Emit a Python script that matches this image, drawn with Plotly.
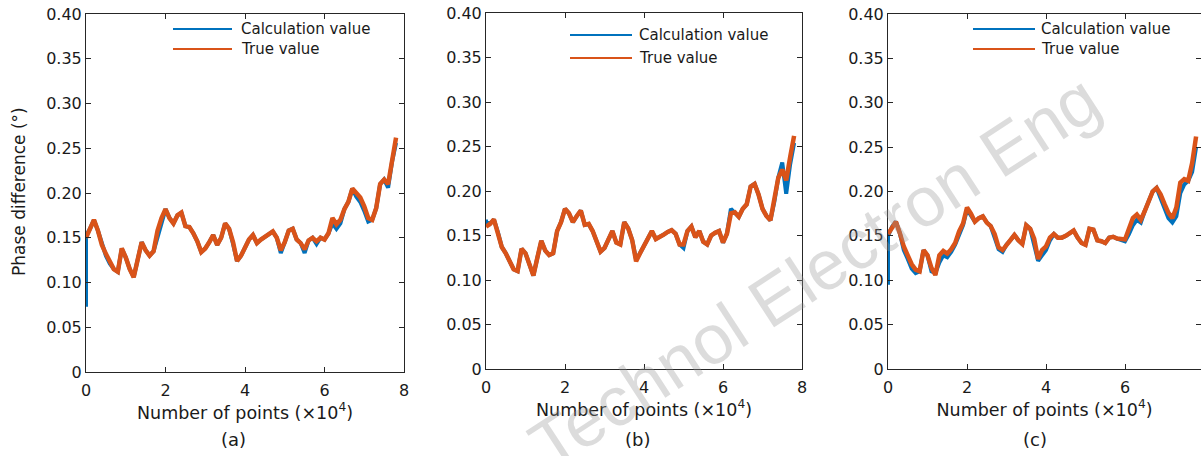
import plotly.graph_objects as go

# ---------------- data ----------------
X_POINTS = [round(0.1 * i, 1) for i in range(79)]   # number of points, x10^4
X_TICKS = [0, 2, 4, 6, 8]
Y_TICKS = [0, 0.05, 0.10, 0.15, 0.20, 0.25, 0.30, 0.35, 0.40]
Y_TICK_LABELS = ["0", "0.05", "0.10", "0.15", "0.20", "0.25", "0.30", "0.35", "0.40"]
PANEL_LABELS = ["(a)", "(b)", "(c)"]
SERIES_NAMES = ["Calculation value", "True value"]

A_CALC_START = 0.073
A_TRUE = [0.150, 0.160, 0.170, 0.158, 0.142, 0.132, 0.124, 0.115, 0.112, 0.138,
          0.128, 0.115, 0.106, 0.128, 0.145, 0.136, 0.130, 0.135, 0.158, 0.172,
          0.182, 0.172, 0.166, 0.175, 0.178, 0.163, 0.162, 0.155, 0.146, 0.134,
          0.138, 0.145, 0.153, 0.142, 0.150, 0.166, 0.160, 0.145, 0.124, 0.130,
          0.138, 0.148, 0.153, 0.144, 0.148, 0.151, 0.155, 0.157, 0.150, 0.136,
          0.145, 0.158, 0.160, 0.148, 0.144, 0.137, 0.147, 0.150, 0.146, 0.150,
          0.148, 0.155, 0.172, 0.165, 0.170, 0.182, 0.190, 0.205, 0.200, 0.195,
          0.185, 0.172, 0.170, 0.183, 0.210, 0.215, 0.210, 0.240, 0.262]
A_CALC = [0.152, 0.160, 0.170, 0.158, 0.142, 0.130, 0.121, 0.115, 0.112, 0.138,
          0.128, 0.115, 0.106, 0.128, 0.145, 0.136, 0.130, 0.135, 0.152, 0.168,
          0.182, 0.172, 0.166, 0.175, 0.178, 0.163, 0.162, 0.155, 0.146, 0.134,
          0.138, 0.145, 0.153, 0.142, 0.150, 0.166, 0.160, 0.143, 0.124, 0.130,
          0.138, 0.148, 0.153, 0.144, 0.148, 0.151, 0.155, 0.157, 0.150, 0.133,
          0.145, 0.158, 0.160, 0.148, 0.144, 0.133, 0.147, 0.150, 0.143, 0.150,
          0.148, 0.155, 0.166, 0.160, 0.166, 0.182, 0.190, 0.205, 0.196, 0.190,
          0.180, 0.168, 0.170, 0.183, 0.210, 0.215, 0.206, 0.235, 0.256]

B_CALC_START = 0.168
B_TRUE = [0.160, 0.163, 0.168, 0.154, 0.137, 0.130, 0.120, 0.112, 0.110, 0.135,
          0.130, 0.118, 0.105, 0.125, 0.144, 0.133, 0.128, 0.130, 0.155, 0.165,
          0.180, 0.175, 0.165, 0.172, 0.178, 0.162, 0.163, 0.155, 0.142, 0.132,
          0.136, 0.145, 0.155, 0.142, 0.140, 0.165, 0.158, 0.145, 0.121, 0.130,
          0.138, 0.148, 0.155, 0.146, 0.148, 0.151, 0.154, 0.156, 0.152, 0.140,
          0.140, 0.155, 0.160, 0.148, 0.155, 0.143, 0.140, 0.150, 0.153, 0.155,
          0.142, 0.152, 0.175, 0.176, 0.171, 0.180, 0.185, 0.205, 0.208, 0.196,
          0.180, 0.172, 0.167, 0.188, 0.215, 0.224, 0.212, 0.238, 0.262]
B_CALC = [0.165, 0.163, 0.168, 0.154, 0.137, 0.130, 0.120, 0.112, 0.110, 0.135,
          0.130, 0.118, 0.105, 0.125, 0.144, 0.133, 0.128, 0.130, 0.155, 0.165,
          0.180, 0.175, 0.165, 0.172, 0.178, 0.162, 0.163, 0.155, 0.142, 0.132,
          0.136, 0.145, 0.155, 0.142, 0.140, 0.165, 0.158, 0.145, 0.123, 0.130,
          0.138, 0.148, 0.155, 0.146, 0.148, 0.151, 0.154, 0.156, 0.152, 0.140,
          0.136, 0.155, 0.160, 0.148, 0.155, 0.143, 0.140, 0.150, 0.153, 0.155,
          0.142, 0.152, 0.180, 0.176, 0.171, 0.180, 0.185, 0.205, 0.208, 0.196,
          0.180, 0.172, 0.167, 0.188, 0.215, 0.232, 0.197, 0.230, 0.254]

C_CALC_START = 0.095
C_TRUE = [0.152, 0.160, 0.166, 0.153, 0.138, 0.128, 0.118, 0.112, 0.110, 0.134,
          0.128, 0.114, 0.106, 0.128, 0.133, 0.130, 0.135, 0.142, 0.155, 0.164,
          0.182, 0.175, 0.166, 0.170, 0.172, 0.165, 0.161, 0.152, 0.137, 0.134,
          0.140, 0.145, 0.151, 0.145, 0.141, 0.162, 0.158, 0.147, 0.124, 0.134,
          0.138, 0.148, 0.152, 0.148, 0.148, 0.150, 0.153, 0.156, 0.148, 0.142,
          0.140, 0.158, 0.157, 0.145, 0.144, 0.142, 0.148, 0.149, 0.147, 0.146,
          0.146, 0.158, 0.170, 0.174, 0.168, 0.178, 0.188, 0.200, 0.204, 0.197,
          0.186, 0.176, 0.170, 0.182, 0.210, 0.214, 0.212, 0.232, 0.262]
C_CALC = [0.150, 0.160, 0.166, 0.153, 0.134, 0.124, 0.113, 0.108, 0.110, 0.134,
          0.128, 0.110, 0.108, 0.120, 0.128, 0.126, 0.132, 0.140, 0.152, 0.162,
          0.180, 0.172, 0.166, 0.170, 0.172, 0.165, 0.161, 0.148, 0.135, 0.132,
          0.140, 0.145, 0.151, 0.145, 0.141, 0.162, 0.158, 0.140, 0.122, 0.128,
          0.134, 0.145, 0.152, 0.148, 0.148, 0.150, 0.153, 0.156, 0.148, 0.142,
          0.140, 0.158, 0.157, 0.145, 0.144, 0.142, 0.148, 0.149, 0.147, 0.146,
          0.144, 0.152, 0.162, 0.168, 0.165, 0.178, 0.188, 0.200, 0.204, 0.192,
          0.180, 0.170, 0.165, 0.172, 0.198, 0.208, 0.212, 0.222, 0.250]

# ---------------- styling / layout ----------------
W, H = 1201, 456
BLUE = "#0072BD"
ORANGE = "#D95319"
AX = "#262626"
TXT = "#1a1a1a"
FONT = "DejaVu Sans"

def px(x):
    return x / W

def py(y):
    return 1 - y / H

# panel boxes in pixels: (left, right, top, bottom)
BOXES = [(86, 404, 14, 372), (486, 802, 13, 369), (888, 1201, 14, 369)]
X_RANGES = [[0, 8], [0, 8], [0, 8 * (1201 - 888) / (1204 - 888)]]
LEGEND_POS = [  # line x0, x1, text x, row1 y, row2 y
    (173, 232, 239, 29, 49),
    (570, 632, 637, 35, 58),
    (973, 1035, 1039, 29, 49),
]
LABEL_POS = [(233, 439), (637, 439), (1035, 439)]

panels = [
    (A_CALC_START, A_CALC, A_TRUE),
    (B_CALC_START, B_CALC, B_TRUE),
    (C_CALC_START, C_CALC, C_TRUE),
]

fig = go.Figure()
layout = dict(
    width=W, height=H,
    margin=dict(l=0, r=0, t=0, b=0, pad=0, autoexpand=False),
    paper_bgcolor="white", plot_bgcolor="white",
    showlegend=False,
    font=dict(family=FONT, color=TXT),
)
shapes = []
annotations = []

for i, (start, calc, true) in enumerate(panels):
    n = "" if i == 0 else str(i + 1)
    xa, ya = "x" + n, "y" + n
    fig.add_trace(go.Scatter(
        x=[0.0] + X_POINTS, y=[start] + calc, xaxis=xa, yaxis=ya,
        mode="lines", name=SERIES_NAMES[0],
        line=dict(color=BLUE, width=4)))
    fig.add_trace(go.Scatter(
        x=X_POINTS, y=true, xaxis=xa, yaxis=ya,
        mode="lines", name=SERIES_NAMES[1],
        line=dict(color=ORANGE, width=4.5)))

    l, r, t, b = BOXES[i]
    layout["xaxis" + n] = dict(
        domain=[px(l), px(r)], range=X_RANGES[i], anchor=ya,
        automargin=False, ticklabeloverflow="allow",
        tickvals=X_TICKS, ticks="inside", ticklen=5, tickcolor=AX,
        ticklabelstandoff=4,
        showline=True, linecolor=AX, linewidth=1, mirror="ticks",
        showgrid=False, zeroline=False,
        tickfont=dict(family=FONT, size=16, color=TXT),
        title=dict(text="Number of points (×10<sup>4</sup>)",
                   font=dict(family=FONT, size=17.5, color=TXT), standoff=4),
    )
    layout["yaxis" + n] = dict(
        domain=[py(b), py(t)], range=[0, 0.4], anchor=xa,
        automargin=False, ticklabeloverflow="allow",
        tickvals=Y_TICKS, ticktext=Y_TICK_LABELS,
        ticks="inside", ticklen=5, tickcolor=AX,
        showline=True, linecolor=AX, linewidth=1, mirror="ticks",
        showgrid=False, zeroline=False,
        tickfont=dict(family=FONT, size=16, color=TXT),
    )

    # legend (drawn inside each panel)
    lx0, lx1, tx, r1, r2 = LEGEND_POS[i]
    for color, name, yy in ((BLUE, SERIES_NAMES[0], r1), (ORANGE, SERIES_NAMES[1], r2)):
        shapes.append(dict(type="line", xref="paper", yref="paper",
                           x0=px(lx0), x1=px(lx1), y0=py(yy), y1=py(yy),
                           line=dict(color=color, width=2)))
        annotations.append(dict(text=name, xref="paper", yref="paper",
                                x=px(tx), y=py(yy), xanchor="left", yanchor="middle",
                                showarrow=False,
                                font=dict(family=FONT, size=15, color=TXT)))
    lx, ly = LABEL_POS[i]
    annotations.append(dict(text=PANEL_LABELS[i], xref="paper", yref="paper",
                            x=px(lx), y=py(ly), xanchor="center", yanchor="middle",
                            showarrow=False,
                            font=dict(family=FONT, size=18, color=TXT)))

# y-axis title on the first panel
annotations.append(dict(text="Phase difference (°)", xref="paper", yref="paper",
                        x=px(19), y=py(192), xanchor="center", yanchor="middle",
                        textangle=-90, showarrow=False,
                        font=dict(family=FONT, size=17, color=TXT)))

# journal watermark
annotations.append(dict(text="Technol Electron Eng", xref="paper", yref="paper",
                        x=px(815), y=py(272), xanchor="center", yanchor="middle",
                        textangle=-33, showarrow=False,
                        font=dict(family="Liberation Sans", size=70,
                                  color="rgba(150,150,150,0.33)")))

layout["shapes"] = shapes
layout["annotations"] = annotations
fig.update_layout(**layout)
# remove the default 8px page margin so the figure fills the window exactly
fig.write_html("out.html",
               config={"displayModeBar": False},
               post_script="document.body.style.margin='0';"
                           "document.body.style.overflow='hidden';")
